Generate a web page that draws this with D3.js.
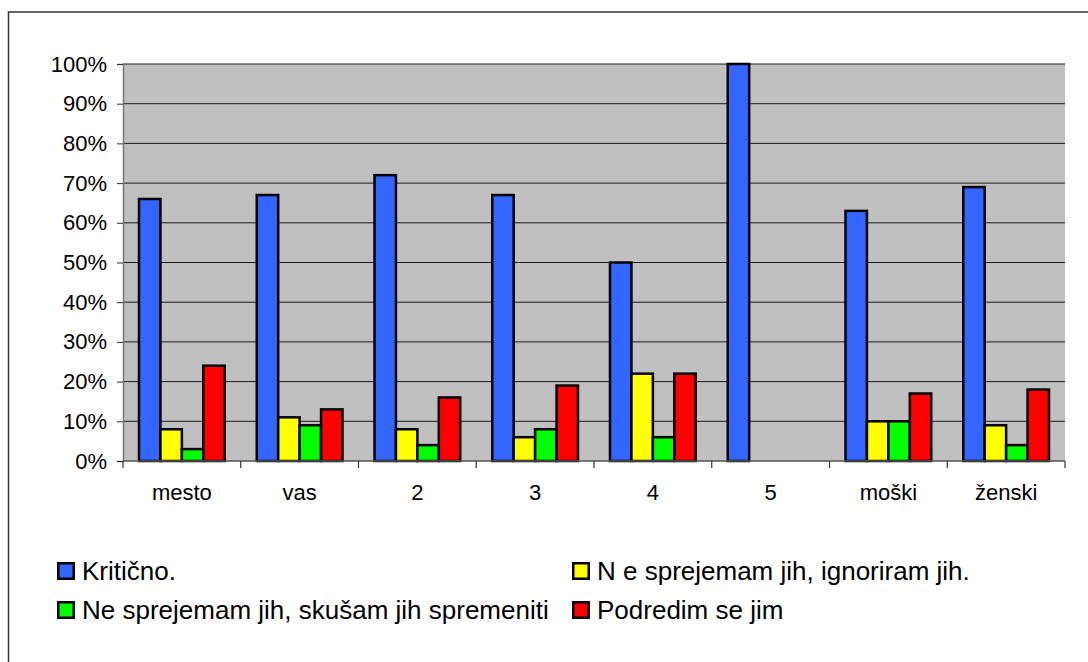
<!DOCTYPE html>
<html><head><meta charset="utf-8">
<script src="https://cdn.jsdelivr.net/npm/d3@7"></script>
<style>
html,body{margin:0;padding:0;background:#fff;}
svg{display:block;}
text{font-family:"Liberation Sans",Arial,sans-serif;fill:#000;}
</style></head>
<body>
<svg id="c" width="1088" height="662"></svg>
<script>
const categories = ["mesto","vas","2","3","4","5","moški","ženski"];
const seriesNames = ["Kritično.","N e sprejemam jih, ignoriram jih.","Ne sprejemam jih, skušam jih spremeniti","Podredim se jim"];
const seriesColors = ["#3366FF","#FFFF00","#00FF00","#FF0000"];
const kriticno   = [66,67,72,67,50,100,63,69];
const ignoriram  = [8,11,8,6,22,0,10,9];
const spremeniti = [3,9,4,8,6,0,10,4];
const podredim   = [24,13,16,19,22,0,17,18];
const yTicks = [0,10,20,30,40,50,60,70,80,90,100];
const series = [kriticno, ignoriram, spremeniti, podredim];

const svg = d3.select("#c");
// outer frame
svg.append("rect").attr("x",8.5).attr("y",12).attr("width",1100).attr("height",700)
  .attr("fill","#fff").attr("stroke","#333").attr("stroke-width",1.5);

const L=123, R=1065, T=64, B=461;
const x = d3.scaleBand().domain(categories).range([L,R]).padding(0);
const gap = 16;
const xs = d3.scaleBand().domain(d3.range(4)).range([gap, x.bandwidth()-gap]).padding(0);
const y = d3.scaleLinear().domain([0,100]).range([B,T]);

svg.append("rect").attr("x",L).attr("y",T).attr("width",R-L).attr("height",B-T).attr("fill","#C0C0C0");

// gridlines
svg.append("g").selectAll("line").data(yTicks.filter(d=>d>0)).join("line")
  .attr("x1",L).attr("x2",R).attr("y1",d=>y(d)).attr("y2",d=>y(d))
  .attr("stroke","#1a1a1a").attr("stroke-width",1);

// y axis
const yAxis = d3.axisLeft(y).tickValues(yTicks).tickFormat(d=>d+"%").tickSize(6).tickPadding(10);
const gy = svg.append("g").attr("transform",`translate(${L},0)`).call(yAxis);
gy.select(".domain").attr("stroke","#777").attr("stroke-width",1.5);
gy.selectAll(".tick line").attr("stroke","#333");
gy.selectAll("text").style("font-size","22px").style("font-family",'"Liberation Sans",Arial,sans-serif').attr("fill","#000");

// bars
const groups = svg.append("g").selectAll("g").data(categories).join("g")
  .attr("transform",d=>`translate(${x(d)},0)`);
groups.selectAll("rect").data((c,i)=>series.map((s,j)=>({j,v:s[i]})).filter(d=>d.v>0)).join("rect")
  .attr("x",d=>xs(d.j)).attr("width",xs.bandwidth())
  .attr("y",d=>y(d.v)).attr("height",d=>B-y(d.v))
  .attr("fill",d=>seriesColors[d.j]).attr("stroke","#000").attr("stroke-width",2.5);

// x axis
svg.append("line").attr("x1",L).attr("x2",R).attr("y1",B).attr("y2",B).attr("stroke","#555").attr("stroke-width",1.5);
const bounds = categories.map(c=>x(c)).concat([R]);
svg.append("g").selectAll("line").data(bounds).join("line")
  .attr("x1",d=>d).attr("x2",d=>d).attr("y1",B).attr("y2",B+7).attr("stroke","#333").attr("stroke-width",1.2);
svg.append("g").selectAll("text").data(categories).join("text")
  .attr("x",d=>x(d)+x.bandwidth()/2).attr("y",500).attr("text-anchor","middle")
  .style("font-size","22px").text(d=>d);

// legend
const legPos = [[57,580],[572,580],[57,619],[572,619]];
const lg = svg.append("g").selectAll("g").data(seriesNames).join("g")
  .attr("transform",(d,i)=>`translate(${legPos[i][0]},${legPos[i][1]})`);
lg.append("rect").attr("x",1.25).attr("y",-16.75).attr("width",15.5).attr("height",15.5)
  .attr("fill",(d,i)=>seriesColors[i]).attr("stroke","#000").attr("stroke-width",2.5);
lg.append("text").attr("x",25).attr("y",0).style("font-size","26px").text(d=>d);
</script>
</body></html>
